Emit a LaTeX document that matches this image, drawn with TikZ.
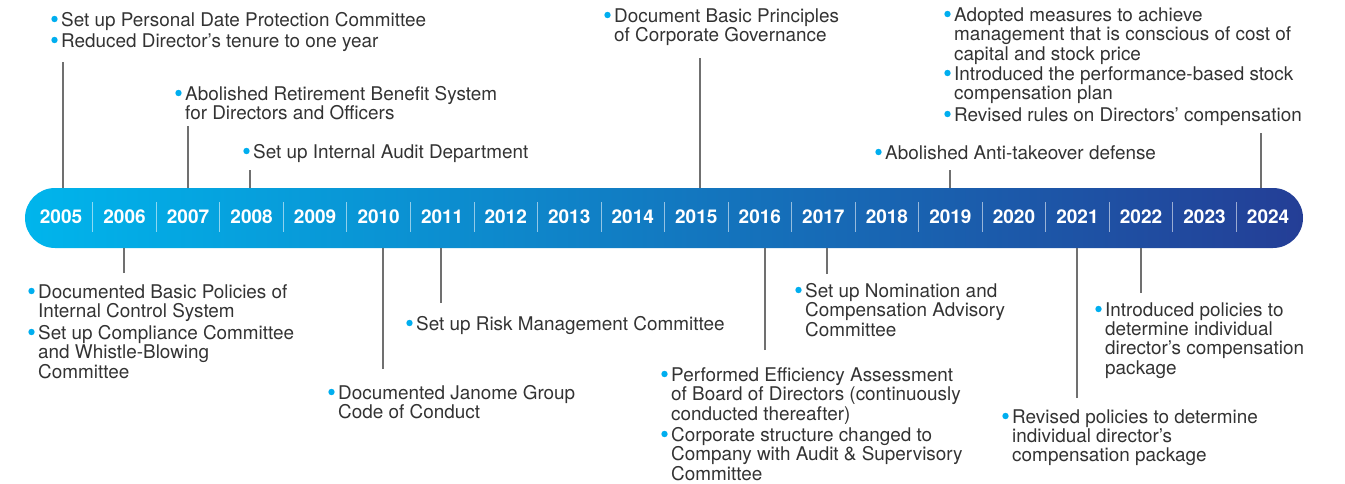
\documentclass[tikz,border=0pt]{standalone}
\usepackage{fontspec}
\setmainfont{TeX Gyre Heros}
\usetikzlibrary{calc,positioning}
\definecolor{barleft}{RGB}{0,181,236}
\definecolor{barmid}{RGB}{40,128,198}
\definecolor{barright}{RGB}{36,62,150}
\definecolor{txtgray}{RGB}{51,51,51}
\definecolor{stemgray}{RGB}{112,112,112}
\definecolor{dotblue}{RGB}{0,174,239}
\newcommand{\evt}[1]{\begin{tabular}[t]{@{}l@{}}#1\end{tabular}}

\begin{document}
\begin{tikzpicture}[
    x=1pt, y=-1pt,
    font=\fontsize{18.9}{19}\selectfont,
    evt/.style={anchor=base west, inner sep=0pt, text=txtgray},
    stem/.style={draw=stemgray, line width=1.3pt},
    year/.style={text=white, font=\fontsize{19}{19}\selectfont\bfseries, inner sep=0pt},
    sep/.style={draw=white, draw opacity=0.55, line width=0.9pt}
]
  \useasboundingbox (0,0) rectangle (1345,483);

  \node[rounded corners=30pt, minimum width=1278pt, minimum height=60pt, inner sep=0pt,
        left color=barleft, middle color=barmid, right color=barright] (bar) at (664,218) {};

  \foreach \yr [count=\i from 0] in {2005,...,2024}
    \node[year] (y\yr) at (61+63.53*\i,217) {\yr};
  \foreach \i in {1,...,19}
    \draw[sep] (61+63.53*\i-31.76,202) -- (61+63.53*\i-31.76,232);

  % above the bar
  \node[evt] (e05a) at (61,26) {\evt{Set up Personal Date Protection Committee}};
  \node[evt] (e05b) at (61,47) {\evt{Reduced Director’s tenure to one year}};
  \node[evt] (e07) at (185,100) {\evt{Abolished Retirement Benefit System\\for Directors and Officers}};
  \node[evt] (e08) at (253,158) {\evt{Set up Internal Audit Department}};
  \node[evt] (e15) at (614,22) {\evt{Document Basic Principles\\of Corporate Governance}};
  \node[evt] (e19) at (885,159) {\evt{Abolished Anti-takeover defense}};
  \node[evt] (e24a) at (954,21) {\evt{Adopted measures to achieve\\management that is conscious of cost of\\capital and stock price}};
  \node[evt] (e24b) at (954,80) {\evt{Introduced the performance-based stock\\compensation plan}};
  \node[evt] (e24c) at (954,121) {\evt{Revised rules on Directors’ compensation}};

  % below the bar
  \node[evt] (e06a) at (38,298) {\evt{Documented Basic Policies of\\Internal Control System}};
  \node[evt] (e06b) at (38,339) {\evt{Set up Compliance Committee\\and Whistle-Blowing\\Committee}};
  \node[evt] (e10) at (338,399) {\evt{Documented Janome Group\\Code of Conduct}};
  \node[evt] (e11) at (416,330) {\evt{Set up Risk Management Committee}};
  \node[evt] (e16a) at (671,381) {\evt{Performed Efficiency Assessment\\of Board of Directors (continuously\\conducted thereafter)}};
  \node[evt] (e16b) at (671,441) {\evt{Corporate structure changed to\\Company with Audit \& Supervisory\\Committee}};
  \node[evt] (e17) at (805,297) {\evt{Set up Nomination and\\Compensation Advisory\\Committee}};
  \node[evt] (e21) at (1012,423) {\evt{Revised policies to determine\\individual director’s\\compensation package}};
  \node[evt] (e22) at (1105,316) {\evt{Introduced policies to\\determine individual\\director’s compensation\\package}};

  \foreach \e in {e05a,e05b,e07,e08,e15,e19,e24a,e24b,e24c,e06a,e06b,e10,e11,e16a,e16b,e17,e21,e22}
    \fill[dotblue] ($(\e.base west)+(-6.5,-7)$) circle (3.2pt);

  \coordinate (c05) at (63,62);
  \coordinate (c07) at (188,126);
  \coordinate (c08) at (250,170);
  \coordinate (c15) at (700,58);
  \coordinate (c19) at (950,170);
  \coordinate (c24) at (1261,133);
  \foreach \c in {c05,c07,c08,c15,c19,c24}
    \draw[stem] (\c) -- (\c |- bar.north);

  \coordinate (c06) at (124,273);
  \coordinate (c10) at (383,369);
  \coordinate (c11) at (441,303);
  \coordinate (c16) at (765,350);
  \coordinate (c17) at (827,274);
  \coordinate (c21) at (1077,398);
  \coordinate (c22) at (1141,293);
  \foreach \c in {c06,c10,c11,c16,c17,c21,c22}
    \draw[stem] (\c) -- (\c |- bar.south);
\end{tikzpicture}
\end{document}
